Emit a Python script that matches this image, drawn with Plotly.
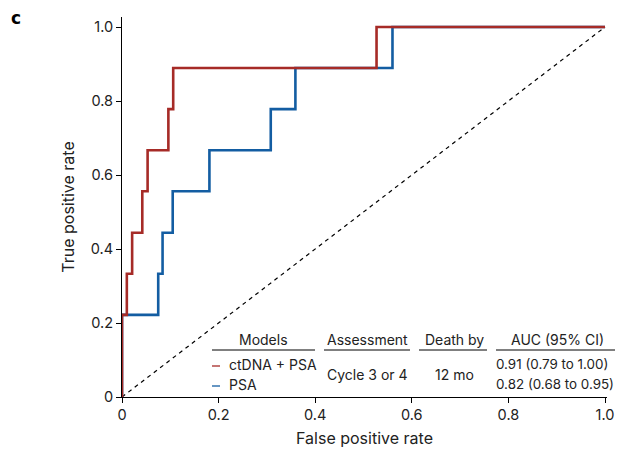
import plotly.graph_objects as go

# ROC step points (FPR, TPR)
red_fpr = [0, 0, 0.010, 0.010, 0.021, 0.021, 0.042, 0.042, 0.053, 0.053, 0.096, 0.096, 0.106, 0.106, 0.527, 0.527, 1.0]
red_tpr = [0, 0.222, 0.222, 0.333, 0.333, 0.444, 0.444, 0.556, 0.556, 0.667, 0.667, 0.778, 0.778, 0.889, 0.889, 1.0, 1.0]
blue_fpr = [0, 0, 0.075, 0.075, 0.084, 0.084, 0.105, 0.105, 0.181, 0.181, 0.308, 0.308, 0.359, 0.359, 0.560, 0.560, 1.0]
blue_tpr = [0, 0.222, 0.222, 0.333, 0.333, 0.444, 0.444, 0.556, 0.556, 0.667, 0.667, 0.778, 0.778, 0.889, 0.889, 1.0, 1.0]
diag = [0, 1]

tick_vals = [0, 0.2, 0.4, 0.6, 0.8, 1.0]
x_tick_text = ["0", "0.2", "0.4", "0.6", "0.8", "1.0"]
y_tick_text = ["0", "0.2", "0.4", "0.6", "0.8", "1.0"]

headers = ["Models", "Assessment", "Death by", "AUC (95% CI)"]
models = ["ctDNA + PSA", "PSA"]
assessment = "Cycle 3 or 4"
death_by = "12 mo"
auc = ["0.91 (0.79 to 1.00)", "0.82 (0.68 to 0.95)"]

RED = "#A62B27"
BLUE = "#135DA2"
FONT = "Inter, Roboto, Arial, sans-serif"

# page body has an 8px margin; compensate so the chart sits where the reference does
OFF = 8
W, H = 623 - OFF, 457 - OFF
# plot area in window pixels: x 122..607, y 17..397
L, T = 122 - OFF, 17 - OFF
R = W - (607 - OFF)
B = H - (397 - OFF)
PW, PH = W - L - R, H - T - B

def px(x):
    return (x - OFF - L) / PW

def py(y):
    return (H - B - (y - OFF)) / PH

fig = go.Figure()
fig.add_trace(go.Scatter(x=diag, y=diag, mode="lines",
                         line=dict(color="black", width=1.2, dash="4px,4px"),
                         hoverinfo="skip", showlegend=False, cliponaxis=False))
fig.add_trace(go.Scatter(x=blue_fpr, y=blue_tpr, mode="lines",
                         line=dict(color=BLUE, width=2.6), showlegend=False, cliponaxis=False))
fig.add_trace(go.Scatter(x=red_fpr, y=red_tpr, mode="lines",
                         line=dict(color=RED, width=2.6), showlegend=False, cliponaxis=False))

annotations = []
shapes = []
tfont = dict(family=FONT, size=14, color="#222")
afont = dict(family=FONT, size=13.4, color="#222")

# headers and underlines
head_centers = [263, 367, 454, 557]
head_lines = [(212, 315), (324, 410), (419, 487), (496, 620)]
for h, cx, (x0, x1) in zip(headers, head_centers, head_lines):
    annotations.append(dict(x=px(cx), y=py(339), xref="paper", yref="paper", text=h,
                            showarrow=False, xanchor="center", yanchor="middle", font=tfont))
    shapes.append(dict(type="line", xref="paper", yref="paper", x0=px(x0), x1=px(x1),
                       y0=py(350), y1=py(350), line=dict(color="black", width=1)))

row_y = [364, 384]
for m, a, c, yy in zip(models, auc, [RED, BLUE], row_y):
    annotations.append(dict(x=px(227), y=py(yy), xref="paper", yref="paper", text=m,
                            showarrow=False, xanchor="left", yanchor="middle", font=tfont))
    annotations.append(dict(x=px(494), y=py(yy), xref="paper", yref="paper", text=a,
                            showarrow=False, xanchor="left", yanchor="middle", font=afont))
    shapes.append(dict(type="line", xref="paper", yref="paper", x0=px(212), x1=px(220),
                       y0=py(yy + 2), y1=py(yy + 2), line=dict(color=c, width=1.3)))

annotations.append(dict(x=px(367), y=py(374), xref="paper", yref="paper", text=assessment,
                        showarrow=False, xanchor="center", yanchor="middle", font=tfont))
annotations.append(dict(x=px(454), y=py(374), xref="paper", yref="paper", text=death_by,
                        showarrow=False, xanchor="center", yanchor="middle", font=tfont))
annotations.append(dict(x=px(15.5), y=py(18), xref="paper", yref="paper", text="<b>c</b>",
                        showarrow=False, xanchor="center", yanchor="middle",
                        font=dict(family="DejaVu Sans, sans-serif", size=17, color="black")))

xmax = (607 - 122) / (605 - 122)
ymax = (397 - 17) / (397 - 27)

fig.update_layout(
    width=W, height=H,
    margin=dict(l=L, r=R, t=T, b=B, autoexpand=False),
    plot_bgcolor="white", paper_bgcolor="white",
    font=dict(family=FONT, color="#222"),
    annotations=annotations, shapes=shapes,
    xaxis=dict(range=[0, xmax], tickvals=tick_vals, ticktext=x_tick_text, automargin=False,
               showgrid=False, zeroline=False, showline=True, linecolor="black", linewidth=1,
               ticks="outside", ticklen=5, tickcolor="black",
               tickfont=dict(size=14.5, color="#222"),
               title=dict(text="False positive rate", font=dict(size=16, color="#222"), standoff=10)),
    yaxis=dict(range=[0, ymax], tickvals=tick_vals, ticktext=y_tick_text, automargin=False,
               showgrid=False, zeroline=False, showline=True, linecolor="black", linewidth=1,
               ticks="outside", ticklen=5, tickcolor="black",
               tickfont=dict(size=14.5, color="#222"),
               title=dict(text="True positive rate", font=dict(size=16, color="#222"), standoff=12)),
)

fig.write_html("out.html")
